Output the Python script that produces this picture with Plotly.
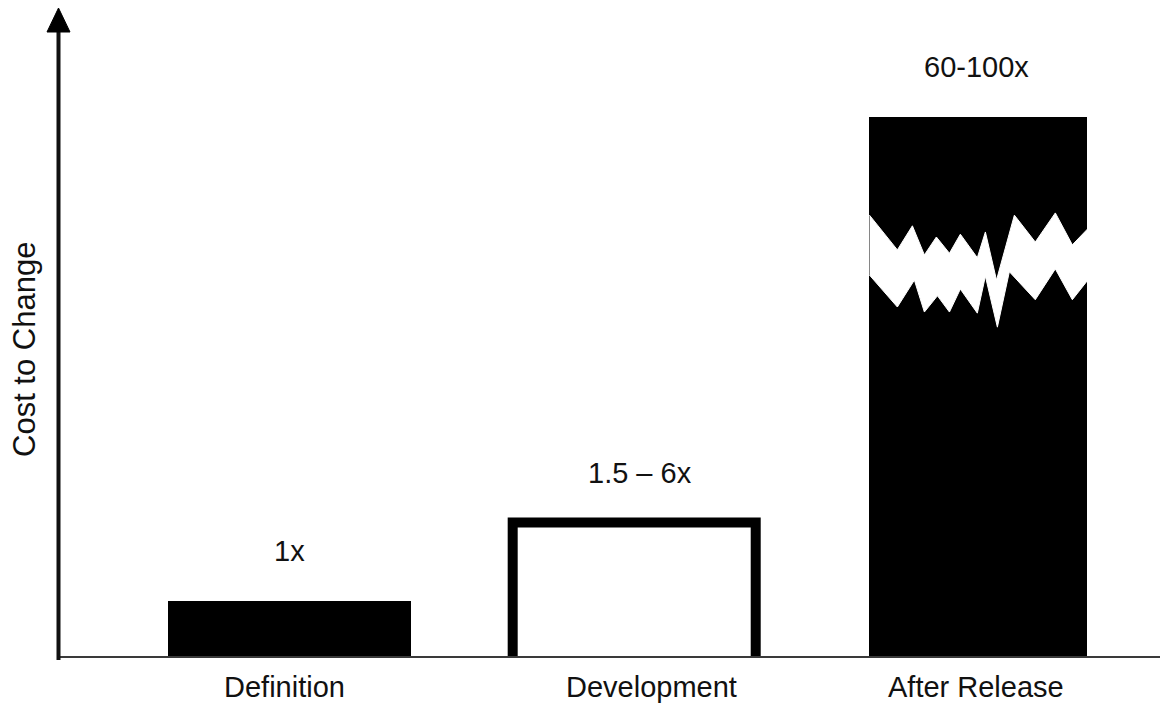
import numpy as np
import plotly.graph_objects as go

# ---- data -------------------------------------------------------------
stages = ["Definition", "Development", "After Release"]
cost_labels = ["1x", "1.5 \u2013 6x", "60-100x"]
# drawn bar heights (schematic scale; the tallest bar is shown with a break)
drawn_height = [1.0, 2.4, 9.64]

# zigzag "break" band across the tallest bar
# upper edge: fraction across bar width, height in axis units
break_top_frac = [0, 0.128, 0.197, 0.252, 0.307, 0.367, 0.417, 0.495, 0.532, 0.583, 0.665, 0.761, 0.853, 0.931, 1.01]
break_top_y = [7.89, 7.27, 7.70, 7.18, 7.50, 7.21, 7.55, 7.13, 7.59, 6.73, 7.89, 7.41, 7.93, 7.36, 7.68]
# lower edge
break_bot_frac = [0, 0.128, 0.206, 0.252, 0.312, 0.367, 0.417, 0.495, 0.532, 0.587, 0.642, 0.761, 0.853, 0.931, 1.01]
break_bot_y = [6.82, 6.25, 6.73, 6.16, 6.45, 6.16, 6.57, 6.14, 6.80, 5.89, 6.88, 6.38, 6.93, 6.38, 6.77]

# ---- layout constants -------------------------------------------------
W, H = 1160, 704
ML, MR, MT, MB = 59, 0, 8, 47
PW, PH = W - ML - MR, H - MT - MB
FONT = "Liberation Sans, Arial, sans-serif"
FS = 29

bar_w = [0.706, 0.706, 0.633]
fill = ["black", "white", "black"]
x_pos = np.arange(len(stages), dtype=float)
# small horizontal nudges (px) for the text labels
stage_shift = [-5, 17, -2]
value_shift = [0, 6, -2]

fig = go.Figure()

# filled bars (the middle bar is white and gets an open outline)
fig.add_trace(go.Bar(
    x=x_pos, y=drawn_height, width=bar_w,
    marker=dict(color=fill, line=dict(width=0)),
    hoverinfo="skip", showlegend=False,
))

# open outline (left, top, right sides) of the Development bar
i = 1
xl, xr = x_pos[i] - bar_w[i] / 2, x_pos[i] + bar_w[i] / 2
fig.add_trace(go.Scatter(
    x=[xl, xl, xr, xr], y=[0, drawn_height[i], drawn_height[i], 0],
    mode="lines", line=dict(color="black", width=10),
    hoverinfo="skip", showlegend=False,
))

# white zigzag break band on the After Release bar
j = 2
left = x_pos[j] - bar_w[j] / 2
bx = [left + f * bar_w[j] for f in break_top_frac] + \
     [left + f * bar_w[j] for f in reversed(break_bot_frac)]
by = break_top_y + list(reversed(break_bot_y))
fig.add_trace(go.Scatter(
    x=bx, y=by, mode="lines", fill="toself", fillcolor="white",
    line=dict(color="white", width=1),
    hoverinfo="skip", showlegend=False,
))

# value labels above bars
for xp, h, lab, dx in zip(x_pos, drawn_height, cost_labels, value_shift):
    fig.add_annotation(
        x=xp, y=h, text=lab, showarrow=False, yanchor="bottom",
        xshift=dx, yshift=32, font=dict(family=FONT, size=FS, color="#111"),
    )

# category labels under the baseline
for xp, lab, dx in zip(x_pos, stages, stage_shift):
    fig.add_annotation(
        x=xp, xref="x", yref="paper", y=0, text=lab, showarrow=False,
        yanchor="top", xshift=dx, yshift=-12,
        font=dict(family=FONT, size=FS, color="#111"),
    )

# y-axis title
fig.add_annotation(
    xref="paper", yref="paper", x=(24 - ML) / PW, y=(H - MB - 350) / PH,
    text="Cost to Change", textangle=-90, showarrow=False,
    xanchor="center", yanchor="middle",
    font=dict(family=FONT, size=31, color="#111"),
)

def px_x(px):
    return (px - ML) / PW

def px_y(py):
    return (H - MB - py) / PH

# axes: baseline, vertical shaft and arrow head
fig.add_shape(type="line", xref="paper", yref="paper",
              x0=px_x(57), x1=1, y0=0, y1=0,
              line=dict(color="#3a3a3a", width=2), layer="above")
fig.add_shape(type="line", xref="paper", yref="paper",
              x0=px_x(58.5), x1=px_x(58.5), y0=px_y(660), y1=px_y(28),
              line=dict(color="#111", width=4), layer="above")
fig.add_shape(type="path", xref="paper", yref="paper",
              path=f"M {px_x(47)},{px_y(32)} L {px_x(70)},{px_y(32)} L {px_x(58.5)},{px_y(8)} Z",
              fillcolor="black", line=dict(color="black", width=1), layer="above")

fig.update_layout(
    width=W, height=H,
    margin=dict(l=ML, r=MR, t=MT, b=MB, autoexpand=False),
    paper_bgcolor="white", plot_bgcolor="white",
    font=dict(family=FONT, size=FS, color="#111"),
    bargap=0,
    xaxis=dict(
        range=[-0.671, 2.5275], showticklabels=False,
        showgrid=False, zeroline=False, showline=False, ticks="",
        fixedrange=True, automargin=False,
    ),
    yaxis=dict(
        range=[0, PH / 56.0], showgrid=False, zeroline=False,
        showline=False, showticklabels=False, ticks="",
        fixedrange=True, automargin=False,
    ),
)

fig.write_html("out.html")
